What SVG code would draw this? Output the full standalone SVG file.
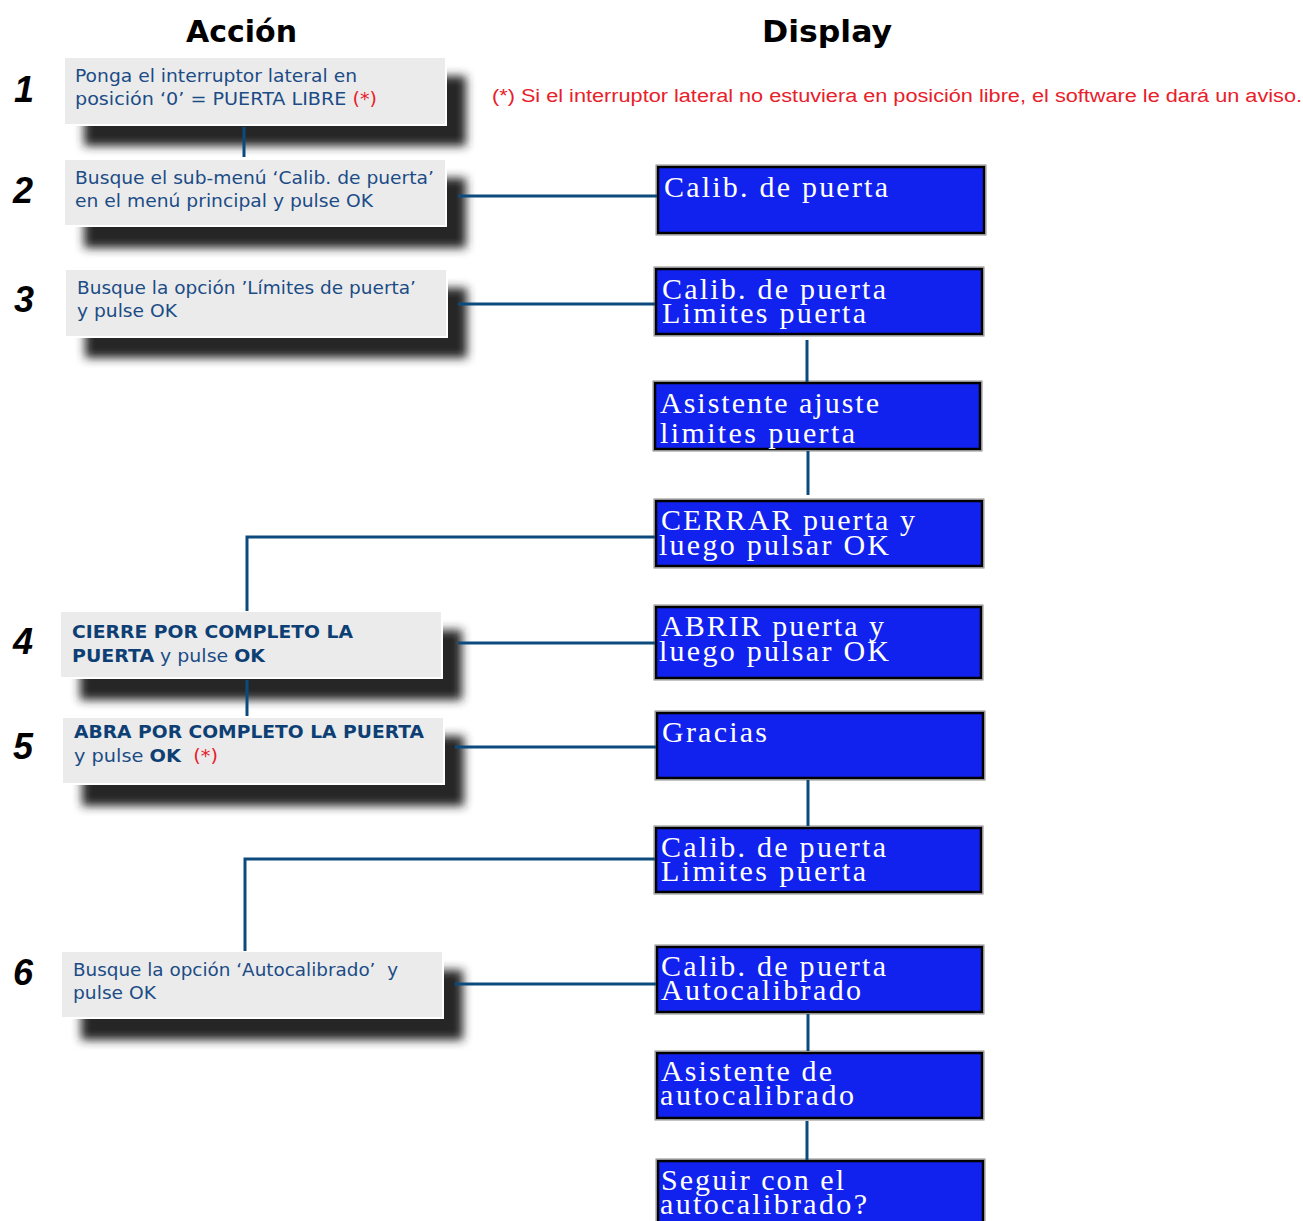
<svg xmlns="http://www.w3.org/2000/svg" width="1303" height="1221" viewBox="0 0 1303 1221">
<defs>
<filter id="blur" x="-10%" y="-40%" width="120%" height="180%"><feGaussianBlur stdDeviation="5"/></filter>
</defs>
<style>
.hdr{font-family:"DejaVu Sans",Verdana,sans-serif;font-weight:bold;font-size:31px;fill:#000}
.num{font-family:"Liberation Sans",Arial,sans-serif;font-weight:bold;font-style:italic;font-size:36px;fill:#000}
.abox{fill:#EBEBEB;stroke:#FFFFFF;stroke-width:2}
.shadow{fill:#262626;filter:url(#blur)}
.atxt{font-family:"DejaVu Sans",Verdana,sans-serif;font-size:17px;fill:#1b4c86}
.b{font-weight:bold;fill:#0e3f74}
.red{fill:#e8202a}
.dbox{fill:#1122EE;stroke:#000;stroke-width:2.5}
.dout{fill:none;stroke:#8a8a8a;stroke-width:1}
.dtxt{font-family:"Liberation Serif","Times New Roman",serif;font-size:30px;fill:#fff}
.note{font-family:"Liberation Sans",Arial,sans-serif;font-size:18px;fill:#e8202a}
.conn{fill:none;stroke:#0c4a7e;stroke-width:3}
</style>
<rect width="1303" height="1221" fill="#fff"/>
<text class="hdr" x="186" y="42" textLength="111" lengthAdjust="spacingAndGlyphs">Acción</text>
<text class="hdr" x="762" y="42" textLength="130" lengthAdjust="spacingAndGlyphs">Display</text>
<text class="note" x="492" y="102" textLength="810" lengthAdjust="spacingAndGlyphs">(*) Si el interruptor lateral no estuviera en posición libre, el software le dará un aviso.</text>

<g id="step-numbers">
<text class="num" x="14" y="102">1</text>
<text class="num" x="13" y="203">2</text>
<text class="num" x="14" y="312">3</text>
<text class="num" x="13" y="654">4</text>
<text class="num" x="13" y="759">5</text>
<text class="num" x="13" y="985">6</text>
</g>

<g id="accion1">
<rect class="shadow" x="84" y="76" width="382" height="70"/>
<rect class="abox" x="64" y="57" width="382" height="68"/>
<text class="atxt" x="75" y="82" textLength="282" lengthAdjust="spacingAndGlyphs">Ponga el interruptor lateral en</text>
<text class="atxt" x="75" y="105" textLength="302" lengthAdjust="spacingAndGlyphs">posición ‘0’ = PUERTA LIBRE <tspan class="red">(*)</tspan></text>
</g>
<g id="accion2">
<rect class="shadow" x="84" y="178" width="382" height="70"/>
<rect class="abox" x="64" y="159" width="382" height="67"/>
<text class="atxt" x="75" y="184" textLength="359" lengthAdjust="spacingAndGlyphs">Busque el sub-menú ‘Calib. de puerta’</text>
<text class="atxt" x="75" y="207" textLength="298" lengthAdjust="spacingAndGlyphs">en el menú principal y pulse OK</text>
</g>
<g id="accion3">
<rect class="shadow" x="85" y="288" width="382" height="70"/>
<rect class="abox" x="65" y="269" width="382" height="68"/>
<text class="atxt" x="77" y="294" textLength="339" lengthAdjust="spacingAndGlyphs">Busque la opción ’Límites de puerta’</text>
<text class="atxt" x="77" y="317" textLength="100" lengthAdjust="spacingAndGlyphs">y pulse OK</text>
</g>
<g id="accion4">
<rect class="shadow" x="80" y="630" width="382" height="70"/>
<rect class="abox" x="60" y="611" width="382" height="67"/>
<text class="atxt b" x="72" y="638" textLength="281" lengthAdjust="spacingAndGlyphs">CIERRE POR COMPLETO LA</text>
<text class="atxt" x="72" y="662" textLength="193" lengthAdjust="spacingAndGlyphs"><tspan class="b">PUERTA</tspan> y pulse <tspan class="b">OK</tspan></text>
</g>
<g id="accion5">
<rect class="shadow" x="82" y="736" width="382" height="70"/>
<rect class="abox" x="62" y="717" width="382" height="67"/>
<text class="atxt b" x="74" y="738" textLength="350" lengthAdjust="spacingAndGlyphs">ABRA POR COMPLETO LA PUERTA</text>
<text class="atxt" x="74" y="762" textLength="144" lengthAdjust="spacingAndGlyphs" xml:space="preserve">y pulse <tspan class="b">OK</tspan>  <tspan class="red">(*)</tspan></text>
</g>
<g id="accion6">
<rect class="shadow" x="81" y="970" width="382" height="70"/>
<rect class="abox" x="61" y="951" width="382" height="67"/>
<text class="atxt" x="73" y="976" textLength="325" lengthAdjust="spacingAndGlyphs" xml:space="preserve">Busque la opción ‘Autocalibrado’  y</text>
<text class="atxt" x="73" y="999" textLength="83" lengthAdjust="spacingAndGlyphs">pulse OK</text>
</g>

<g id="display1">
<rect class="dout" x="656" y="165" width="330" height="70"/>
<rect class="dbox" x="658" y="167" width="326" height="66"/>
<text class="dtxt" x="664" y="197" textLength="224" lengthAdjust="spacing">Calib. de puerta</text>
</g>
<g id="display2">
<rect class="dout" x="654" y="267" width="330" height="69"/>
<rect class="dbox" x="656" y="269" width="326" height="65"/>
<text class="dtxt" x="662" y="299" textLength="224" lengthAdjust="spacing">Calib. de puerta</text>
<text class="dtxt" x="662" y="323" textLength="204" lengthAdjust="spacing">Limites puerta</text>
</g>
<g id="display3">
<rect class="dout" x="653" y="381" width="329" height="70"/>
<rect class="dbox" x="655" y="383" width="325" height="66"/>
<text class="dtxt" x="660" y="413" textLength="219" lengthAdjust="spacing">Asistente ajuste</text>
<text class="dtxt" x="660" y="443" textLength="195" lengthAdjust="spacing">limites puerta</text>
</g>
<g id="display4">
<rect class="dout" x="654" y="499" width="330" height="69"/>
<rect class="dbox" x="656" y="501" width="326" height="65"/>
<text class="dtxt" x="661" y="530" textLength="254" lengthAdjust="spacing">CERRAR puerta y</text>
<text class="dtxt" x="659" y="555" textLength="230" lengthAdjust="spacing">luego pulsar OK</text>
</g>
<g id="display5">
<rect class="dout" x="654" y="605" width="329" height="75"/>
<rect class="dbox" x="656" y="607" width="325" height="71"/>
<text class="dtxt" x="661" y="636" textLength="223" lengthAdjust="spacing">ABRIR puerta y</text>
<text class="dtxt" x="659" y="661" textLength="230" lengthAdjust="spacing">luego pulsar OK</text>
</g>
<g id="display6">
<rect class="dout" x="655" y="711" width="330" height="69"/>
<rect class="dbox" x="657" y="713" width="326" height="65"/>
<text class="dtxt" x="662" y="742" textLength="105" lengthAdjust="spacing">Gracias</text>
</g>
<g id="display7">
<rect class="dout" x="654" y="826" width="329" height="68"/>
<rect class="dbox" x="656" y="828" width="325" height="64"/>
<text class="dtxt" x="661" y="857" textLength="225" lengthAdjust="spacing">Calib. de puerta</text>
<text class="dtxt" x="661" y="881" textLength="205" lengthAdjust="spacing">Limites puerta</text>
</g>
<g id="display8">
<rect class="dout" x="655" y="945" width="329" height="69"/>
<rect class="dbox" x="657" y="947" width="325" height="65"/>
<text class="dtxt" x="661" y="976" textLength="225" lengthAdjust="spacing">Calib. de puerta</text>
<text class="dtxt" x="661" y="1000" textLength="200" lengthAdjust="spacing">Autocalibrado</text>
</g>
<g id="display9">
<rect class="dout" x="655" y="1051" width="329" height="69"/>
<rect class="dbox" x="657" y="1053" width="325" height="65"/>
<text class="dtxt" x="661" y="1081" textLength="171" lengthAdjust="spacing">Asistente de</text>
<text class="dtxt" x="660" y="1105" textLength="194" lengthAdjust="spacing">autocalibrado</text>
</g>
<g id="display10">
<rect class="dout" x="656" y="1159" width="329" height="70"/>
<rect class="dbox" x="658" y="1161" width="325" height="66"/>
<text class="dtxt" x="661" y="1190" textLength="183" lengthAdjust="spacing">Seguir con el</text>
<text class="dtxt" x="660" y="1214" textLength="207" lengthAdjust="spacing">autocalibrado?</text>
</g>

<g id="connectors">
<line class="conn" x1="244" y1="127" x2="244" y2="157"/>
<line class="conn" x1="458" y1="196" x2="657" y2="196"/>
<line class="conn" x1="458" y1="304" x2="655" y2="304"/>
<line class="conn" x1="807" y1="340" x2="807" y2="382"/>
<line class="conn" x1="808" y1="451" x2="808" y2="495"/>
<polyline class="conn" points="655,537 247,537 247,611"/>
<line class="conn" x1="458" y1="643" x2="655" y2="643"/>
<line class="conn" x1="247" y1="680" x2="247" y2="716"/>
<line class="conn" x1="455" y1="747" x2="656" y2="747"/>
<line class="conn" x1="808" y1="780" x2="808" y2="826"/>
<polyline class="conn" points="655,859 245,859 245,951"/>
<line class="conn" x1="455" y1="984" x2="656" y2="984"/>
<line class="conn" x1="808" y1="1014" x2="808" y2="1051"/>
<line class="conn" x1="807" y1="1121" x2="807" y2="1160"/>
</g>
</svg>
